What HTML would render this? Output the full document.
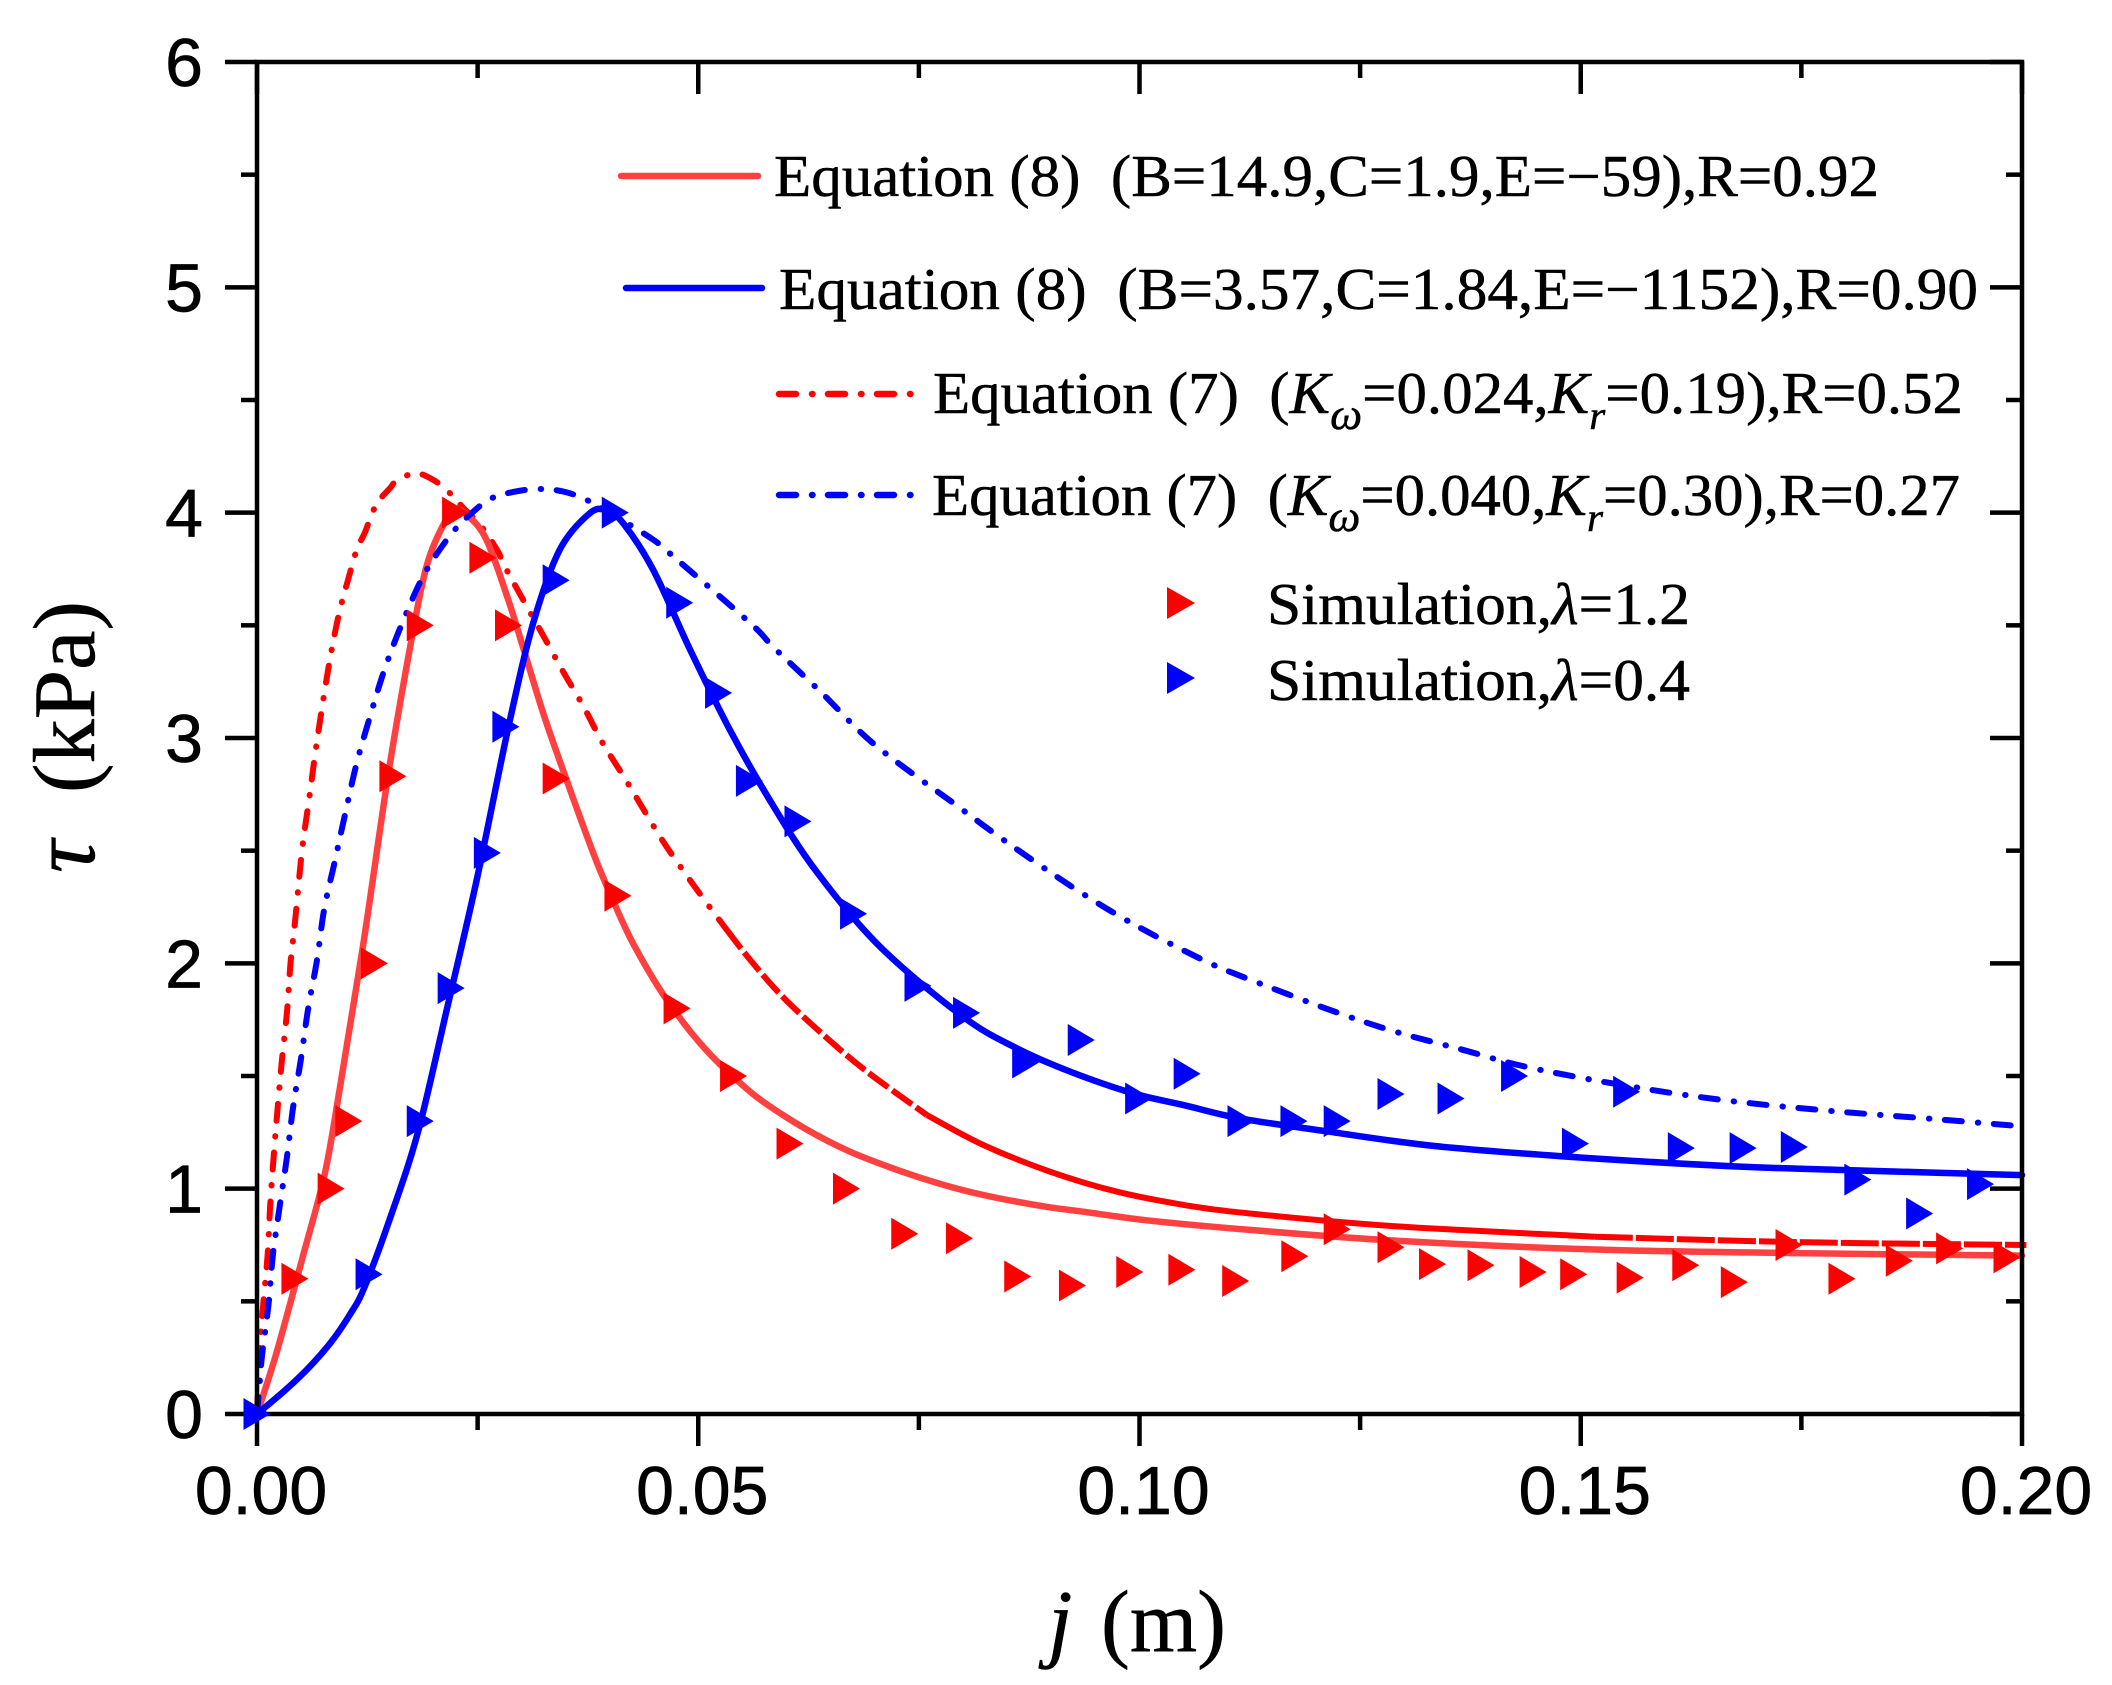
<!DOCTYPE html>
<html lang="en">
<head>
<meta charset="utf-8">
<title>Shear stress versus displacement chart</title>
<style>
html,body{margin:0;padding:0;background:#fff}
svg{display:block}
.serif{font-family:"Liberation Serif",serif;fill:#000;stroke:#000;stroke-width:.5px;white-space:pre}
.sans{font-family:"Liberation Sans",sans-serif;fill:#000;stroke:#000;stroke-width:.7px}
.it{font-style:italic}
</style>
</head>
<body>
<svg id="chart" xmlns="http://www.w3.org/2000/svg" width="2112" height="1685" viewBox="0 0 2112 1685">
  <rect x="0" y="0" width="2112" height="1685" fill="#fff"/>
  <g id="series-layer"></g>
  <g id="axis-layer"></g>
  <g id="marker-layer"></g>

  <g>
    <line x1="621" x2="758" y1="176" y2="176" stroke="#ff4040" stroke-width="6.5" stroke-linecap="round"/>
    <text class="serif" x="774" y="196" font-size="59" textLength="1105" lengthAdjust="spacingAndGlyphs">Equation (8)  (B=14.9,C=1.9,E=−59),R=0.92</text>
    <line x1="626" x2="762" y1="288" y2="288" stroke="#0000ff" stroke-width="6.5" stroke-linecap="round"/>
    <text class="serif" x="779" y="309" font-size="59" textLength="1199" lengthAdjust="spacingAndGlyphs">Equation (8)  (B=3.57,C=1.84,E=−1152),R=0.90</text>
    <line x1="779" x2="915" y1="394" y2="394" stroke="#ff0000" stroke-width="6.5" stroke-linecap="round" stroke-dasharray="17 16 .5 15.5"/>
    <text class="serif" x="933" y="413" font-size="59" textLength="1030" lengthAdjust="spacingAndGlyphs">Equation (7)  (<tspan class="it">K</tspan><tspan class="it" font-size="44" dy="16">ω</tspan><tspan dy="-16">=0.024,</tspan><tspan class="it">K</tspan><tspan class="it" font-size="40" dy="16">r</tspan><tspan dy="-16">=0.19),R=0.52</tspan></text>
    <line x1="779" x2="915" y1="495" y2="495" stroke="#0000ff" stroke-width="6.5" stroke-linecap="round" stroke-dasharray="17 16 .5 15.5"/>
    <text class="serif" x="932" y="515" font-size="59" textLength="1028" lengthAdjust="spacingAndGlyphs">Equation (7)  (<tspan class="it">K</tspan><tspan class="it" font-size="44" dy="16">ω</tspan><tspan dy="-16">=0.040,</tspan><tspan class="it">K</tspan><tspan class="it" font-size="40" dy="16">r</tspan><tspan dy="-16">=0.30),R=0.27</tspan></text>
    <polygon points="1167,587 1195,603 1167,619" fill="#ff0000"/>
    <text class="serif" x="1267" y="624" font-size="59" textLength="423" lengthAdjust="spacingAndGlyphs">Simulation,<tspan class="it">λ</tspan>=1.2</text>
    <polygon points="1167,662 1195,678 1167,694" fill="#0000ff"/>
    <text class="serif" x="1267" y="700" font-size="59" textLength="423" lengthAdjust="spacingAndGlyphs">Simulation,<tspan class="it">λ</tspan>=0.4</text>
  </g>

  <text class="serif it" transform="translate(94,873) rotate(-90)" font-size="92">τ</text>
  <text class="serif" transform="translate(94,793) rotate(-90)" font-size="88" textLength="192" lengthAdjust="spacingAndGlyphs">(kPa)</text>
  <text class="serif it" x="1048" y="1651" font-size="88">j</text>
  <text class="serif" x="1101" y="1651" font-size="88" textLength="125" lengthAdjust="spacingAndGlyphs">(m)</text>
</svg>

<script>
const xTickLabels = ["0.00", "0.05", "0.10", "0.15", "0.20"];
const yTickLabels = ["0", "1", "2", "3", "4", "5", "6"];

const eq8RedX = [0, 0.0022, 0.0052, 0.0077, 0.0094, 0.0121, 0.015, 0.0175, 0.0192, 0.0211, 0.0224, 0.0238, 0.026, 0.0285, 0.0304, 0.0326, 0.0353, 0.0381, 0.04, 0.0426, 0.0464, 0.0509, 0.0559, 0.0596, 0.0634, 0.0672, 0.071, 0.0748, 0.0785, 0.0823, 0.0861, 0.0899, 0.0936, 0.1012, 0.1125, 0.1287, 0.1516, 0.1745, 0.2];
const eq8RedY = [0, 0.27, 0.7, 1.07, 1.45, 2.1, 2.87, 3.435, 3.76, 3.945, 4.01, 3.99, 3.88, 3.61, 3.37, 3.09, 2.79, 2.49, 2.31, 2.09, 1.84, 1.615, 1.43, 1.327, 1.238, 1.164, 1.105, 1.053, 1.009, 0.972, 0.942, 0.917, 0.898, 0.858, 0.817, 0.77, 0.73, 0.714, 0.703];

const eq7RedX = [0, 0.0003, 0.0007, 0.0012, 0.0015, 0.0019, 0.0023, 0.0028, 0.0034, 0.0038, 0.0043, 0.0051, 0.006, 0.0067, 0.0078, 0.0086, 0.0094, 0.0103, 0.0113, 0.0122, 0.0135, 0.0151, 0.0158, 0.0179, 0.02, 0.0219, 0.0234, 0.0253, 0.0272, 0.0281, 0.0302, 0.0324, 0.0347, 0.037, 0.0392, 0.0417, 0.044, 0.0462, 0.0485, 0.051, 0.0532, 0.0559, 0.0596, 0.0644, 0.0691, 0.0759, 0.0823, 0.0899, 0.0974, 0.105, 0.1125, 0.1287, 0.1516, 0.1745, 0.2005];
const eq7RedY = [0, 0.284, 0.484, 0.705, 0.928, 1.15, 1.34, 1.56, 1.785, 2.0, 2.18, 2.5, 2.755, 2.96, 3.24, 3.42, 3.57, 3.7, 3.835, 3.91, 4.035, 4.11, 4.14, 4.175, 4.145, 4.085, 4.02, 3.945, 3.835, 3.76, 3.61, 3.457, 3.294, 3.14, 2.976, 2.82, 2.67, 2.53, 2.4, 2.265, 2.15, 2.015, 1.85, 1.675, 1.52, 1.327, 1.194, 1.075, 0.987, 0.928, 0.89, 0.834, 0.787, 0.763, 0.75];

const eq8BlueX = [0, 0.003, 0.0056, 0.0083, 0.0105, 0.0122, 0.0154, 0.0183, 0.0215, 0.0249, 0.0285, 0.0313, 0.0343, 0.0377, 0.0396, 0.0415, 0.0449, 0.0491, 0.0536, 0.0581, 0.0634, 0.0706, 0.08, 0.0861, 0.0921, 0.0993, 0.105, 0.1114, 0.1211, 0.1333, 0.1478, 0.1668, 0.1821, 0.2];
const eq8BlueY = [0, 0.099, 0.195, 0.314, 0.44, 0.565, 0.905, 1.26, 1.793, 2.37, 3.05, 3.51, 3.835, 3.997, 4.01, 3.953, 3.746, 3.39, 3.035, 2.725, 2.407, 2.074, 1.763, 1.623, 1.52, 1.423, 1.371, 1.312, 1.255, 1.19, 1.144, 1.1, 1.08, 1.06];

const eq7BlueX = [0, 0.0003, 0.0006, 0.0013, 0.0018, 0.0026, 0.0034, 0.0041, 0.005, 0.0058, 0.0068, 0.0076, 0.0088, 0.01, 0.0113, 0.0128, 0.0145, 0.0166, 0.019, 0.0219, 0.0243, 0.0266, 0.0296, 0.0324, 0.0351, 0.0377, 0.0408, 0.0449, 0.0472, 0.0559, 0.0586, 0.064, 0.07, 0.0793, 0.0838, 0.0884, 0.0929, 0.0977, 0.1025, 0.108, 0.1112, 0.1211, 0.1287, 0.1363, 0.1439, 0.1554, 0.1668, 0.1783, 0.1897, 0.2005];
const eq7BlueY = [0, 0.135, 0.27, 0.484, 0.705, 0.928, 1.142, 1.364, 1.58, 1.8, 2.015, 2.237, 2.45, 2.666, 2.888, 3.095, 3.31, 3.524, 3.73, 3.9, 3.997, 4.064, 4.096, 4.105, 4.09, 4.05, 3.98, 3.88, 3.805, 3.51, 3.4, 3.2, 2.97, 2.7, 2.57, 2.444, 2.326, 2.21, 2.107, 2.0, 1.948, 1.8, 1.7, 1.62, 1.54, 1.455, 1.39, 1.345, 1.31, 1.275];

const simRedX = [0.0043, 0.0084, 0.0104, 0.0133, 0.0154, 0.0185, 0.0225, 0.0256, 0.0285, 0.0339, 0.0409, 0.0476, 0.054, 0.0604, 0.0668, 0.0734, 0.0796, 0.0862, 0.0924, 0.0989, 0.1048, 0.1109, 0.1176, 0.1224, 0.1285, 0.1332, 0.1387, 0.1446, 0.1492, 0.1556, 0.1619, 0.1674, 0.1736, 0.1796, 0.1861, 0.1918, 0.1983];
const simRedY = [0.6, 1.0, 1.3, 2.0, 2.83, 3.5, 4.0, 3.8, 3.5, 2.82, 2.3, 1.8, 1.5, 1.2, 1.0, 0.8, 0.78, 0.61, 0.57, 0.63, 0.64, 0.59, 0.70, 0.82, 0.74, 0.665, 0.66, 0.63, 0.62, 0.605, 0.66, 0.585, 0.75, 0.6, 0.68, 0.735, 0.695];

const simBlueX = [0, 0.0127, 0.0185, 0.022, 0.0261, 0.0282, 0.0339, 0.0406, 0.0479, 0.0523, 0.0558, 0.0613, 0.0676, 0.0749, 0.0804, 0.0871, 0.0934, 0.0999, 0.1054, 0.1115, 0.1175, 0.1224, 0.1285, 0.1353, 0.1425, 0.1494, 0.1552, 0.1614, 0.1684, 0.1742, 0.1814, 0.1884, 0.1953];
const simBlueY = [0, 0.62, 1.3, 1.89, 2.49, 3.05, 3.7, 4.0, 3.6, 3.2, 2.81, 2.63, 2.22, 1.9, 1.78, 1.56, 1.66, 1.4, 1.51, 1.3, 1.3, 1.3, 1.42, 1.4, 1.5, 1.2, 1.43, 1.18, 1.18, 1.185, 1.04, 0.89, 1.02];

const NS = 'http://www.w3.org/2000/svg';
const X0 = 257, X1 = 2022, Y0 = 1414, Y1 = 62;
const XMAX = 0.2, YMAX = 6;
function sx(v) { return X0 + (v / XMAX) * (X1 - X0); }
function sy(v) { return Y0 - (v / YMAX) * (Y0 - Y1); }

function smoothPath(xs, ys) {
  const p = xs.map(function (x, i) { return [sx(x), sy(ys[i])]; });
  let d = 'M' + p[0][0].toFixed(1) + ' ' + p[0][1].toFixed(1);
  for (let i = 0; i < p.length - 1; i++) {
    const a = p[Math.max(0, i - 1)], b = p[i], c = p[i + 1], e = p[Math.min(p.length - 1, i + 2)];
    const c1x = b[0] + (c[0] - a[0]) / 6, c1y = b[1] + (c[1] - a[1]) / 6;
    const c2x = c[0] - (e[0] - b[0]) / 6, c2y = c[1] - (e[1] - b[1]) / 6;
    d += 'C' + c1x.toFixed(1) + ' ' + c1y.toFixed(1) + ' ' + c2x.toFixed(1) + ' ' + c2y.toFixed(1) + ' ' + c[0].toFixed(1) + ' ' + c[1].toFixed(1);
  }
  return d;
}

function sliceRange(xs, ys, lo, hi) {
  const ox = [], oy = [];
  xs.forEach(function (x, i) {
    if (x >= lo && x <= hi) { ox.push(x); oy.push(ys[i]); }
  });
  return [ox, oy];
}

const seriesLayer = document.getElementById('series-layer');
const markerLayer = document.getElementById('marker-layer');
const axisLayer = document.getElementById('axis-layer');

function addCurve(name, xs, ys, color, width, dash, cap) {
  const el = document.createElementNS(NS, 'path');
  
  
  el.setAttribute('d', smoothPath(xs, ys));
  el.setAttribute('fill', 'none');
  el.setAttribute('stroke', color);
  el.setAttribute('stroke-width', width);
  el.setAttribute('stroke-linejoin', 'round');
  el.setAttribute('stroke-linecap', cap);
  if (dash) el.setAttribute('stroke-dasharray', dash);
  seriesLayer.appendChild(el);
}

const redHead = sliceRange(eq7RedX, eq7RedY, 0, 0.0532);
const redMid = sliceRange(eq7RedX, eq7RedY, 0.0532, 0.0759);
const redBody = sliceRange(eq7RedX, eq7RedY, 0.0759, 0.1516);
const redTail = sliceRange(eq7RedX, eq7RedY, 0.1516, 0.21);
addCurve('curve-eq7-red-dashdot', redHead[0], redHead[1], '#ff0000', 6, '17 16 .5 15.5', 'round');
addCurve('curve-eq7-red-dashed', redMid[0], redMid[1], '#ff0000', 6, '24 5', 'butt');
addCurve('curve-eq7-red-solid', redBody[0], redBody[1], '#ff0000', 6, '', 'butt');
addCurve('curve-eq7-red-tail', redTail[0], redTail[1], '#ff0000', 6, '38 3', 'butt');
addCurve('curve-eq8-red', eq8RedX, eq8RedY, '#ff4040', 6.5, '', 'round');
addCurve('curve-eq7-blue', eq7BlueX, eq7BlueY, '#0000ff', 6, '17 16 .5 15.5', 'round');
addCurve('curve-eq8-blue', eq8BlueX, eq8BlueY, '#0000ff', 6.5, '', 'round');

function addMarkers(name, xs, ys, color) {
  xs.forEach(function (x, i) {
    const cx = sx(x), cy = sy(ys[i]);
    const m = document.createElementNS(NS, 'polygon');
    
    
    m.setAttribute('points', (cx - 13.5) + ',' + (cy - 16) + ' ' + (cx + 13.5) + ',' + cy + ' ' + (cx - 13.5) + ',' + (cy + 16));
    m.setAttribute('fill', color);
    markerLayer.appendChild(m);
  });
}
addMarkers('marker-sim-lambda-1-2', simRedX, simRedY, '#ff0000');
addMarkers('marker-sim-lambda-0-4', simBlueX, simBlueY, '#0000ff');

function addTick(name, x1, y1, x2, y2) {
  const t = document.createElementNS(NS, 'line');
  
  
  t.setAttribute('x1', x1);
  t.setAttribute('y1', y1);
  t.setAttribute('x2', x2);
  t.setAttribute('y2', y2);
  t.setAttribute('stroke', '#000');
  t.setAttribute('stroke-width', 4.5);
  axisLayer.appendChild(t);
}

const frame = document.createElementNS(NS, 'rect');


frame.setAttribute('x', X0);
frame.setAttribute('y', Y1);
frame.setAttribute('width', X1 - X0);
frame.setAttribute('height', Y0 - Y1);
frame.setAttribute('fill', 'none');
frame.setAttribute('stroke', '#000');
frame.setAttribute('stroke-width', 4.5);
axisLayer.appendChild(frame);

const xStep = XMAX / (xTickLabels.length - 1);
xTickLabels.forEach(function (lab, i) {
  const px = sx(i * xStep);
  addTick('x-major-tick-bottom', px, Y0, px, Y0 + 32);
  addTick('x-major-tick-top', px, Y1, px, Y1 + 32);
  if (i < xTickLabels.length - 1) {
    const mx = sx((i + 0.5) * xStep);
    addTick('x-minor-tick-bottom', mx, Y0, mx, Y0 + 16);
    addTick('x-minor-tick-top', mx, Y1, mx, Y1 + 16);
  }
  const t = document.createElementNS(NS, 'text');
  
  
  t.setAttribute('class', 'sans');
  t.setAttribute('x', px + 4);
  t.setAttribute('y', 1514);
  t.setAttribute('font-size', 68);
  t.setAttribute('text-anchor', 'middle');
  t.textContent = lab;
  axisLayer.appendChild(t);
});

yTickLabels.forEach(function (lab, i) {
  const py = sy(i);
  addTick('y-major-tick-left', X0 - 32, py, X0, py);
  addTick('y-major-tick-right', X1 - 32, py, X1, py);
  if (i < yTickLabels.length - 1) {
    const my = sy(i + 0.5);
    addTick('y-minor-tick-left', X0 - 16, my, X0, my);
    addTick('y-minor-tick-right', X1 - 16, my, X1, my);
  }
  const t = document.createElementNS(NS, 'text');
  
  
  t.setAttribute('class', 'sans');
  t.setAttribute('x', 203);
  t.setAttribute('y', py + 24);
  t.setAttribute('font-size', 68);
  t.setAttribute('text-anchor', 'end');
  t.textContent = lab;
  axisLayer.appendChild(t);
});
</script>
</body>
</html>
